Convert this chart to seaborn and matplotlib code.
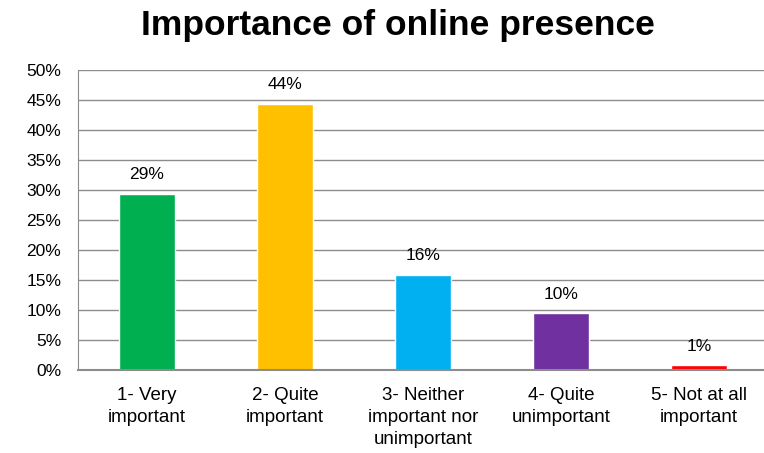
import numpy as np
import pandas as pd
import matplotlib
matplotlib.use('Agg')
import matplotlib.pyplot as plt
import seaborn as sns
from matplotlib.ticker import PercentFormatter, FixedLocator

# data (percent of respondents)
categories = ['1- Very\nimportant', '2- Quite\nimportant', '3- Neither\nimportant nor\nunimportant',
              '4- Quite\nunimportant', '5- Not at all\nimportant']
values = [29.4, 44.4, 15.9, 9.5, 0.8]
labels = ['29%', '44%', '16%', '10%', '1%']
colours = ['#00B050', '#FFC000', '#00B0F0', '#7030A0', '#FF0000']

df = pd.DataFrame({'Category': categories, 'Share': values})

sns.set_style('white')
plt.rcParams['font.family'] = ['Liberation Sans', 'DejaVu Sans']
plt.rcParams['text.color'] = 'black'

fig = plt.figure(figsize=(7.64, 4.53), dpi=100)
# axes run a little past the right edge, like the cropped original
ax = fig.add_axes([78 / 764, 83 / 453, 690 / 764, 300 / 453])

sns.barplot(data=df, x='Category', y='Share', hue='Category', palette=colours,
            legend=False, width=0.406, saturation=1, ax=ax)

for i, (v, lab) in enumerate(zip(values, labels)):
    ax.annotate(lab, (i, v), xytext=(0, 8), textcoords='offset points',
                ha='center', va='bottom', fontsize=12.5, color='black')

ax.set_ylim(0, 50)
ax.set_xlim(-0.5, 4.5)
ax.set_yticks(np.arange(0, 51, 5))
ax.yaxis.set_major_formatter(PercentFormatter(decimals=0))
ax.grid(axis='y', color='#8c8c8c', linewidth=1)
ax.set_axisbelow(True)

ax.xaxis.set_minor_locator(FixedLocator([0.5, 1.5, 2.5, 3.5]))
ax.tick_params(axis='x', which='major', length=0, pad=12, labelsize=13.5, labelcolor='black')
ax.tick_params(axis='x', which='minor', length=5, color='#8c8c8c', width=1, direction='out')
ax.tick_params(axis='y', length=6, color='#8c8c8c', width=1, direction='out', labelsize=12.5,
               pad=6, labelcolor='black')
for lab in ax.get_xticklabels():
    lab.set_linespacing(1.4)

sns.despine(ax=ax, top=True, right=True)
ax.spines['left'].set_color('#8c8c8c')
ax.spines['bottom'].set_color('#8c8c8c')
ax.spines['bottom'].set_linewidth(1.5)
ax.set_xlabel('')
ax.set_ylabel('')

fig.text(398 / 764, 1 - 26 / 453, 'Importance of online presence', ha='center', va='center',
         fontsize=25.5, fontweight='bold', color='black')

fig.savefig('out.png', dpi=100)
